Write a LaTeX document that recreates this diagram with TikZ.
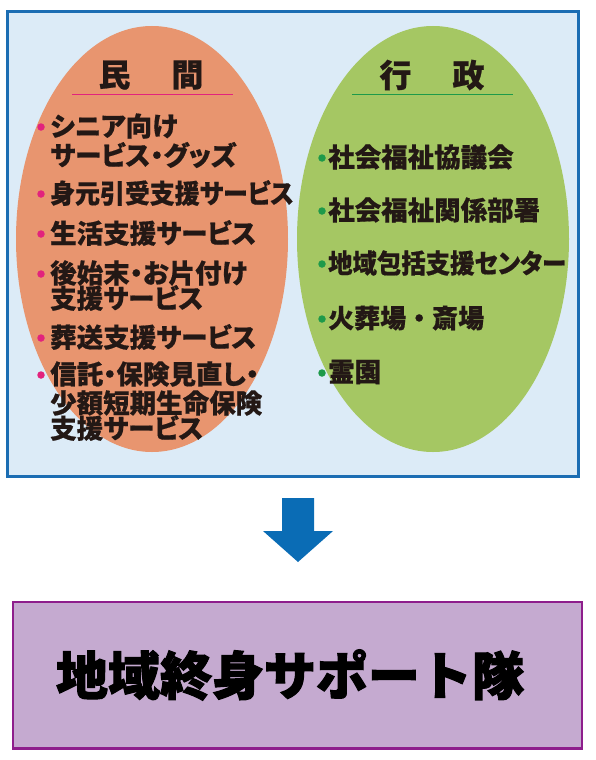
\documentclass[tikz,border=0pt]{standalone}
\usepackage{fontspec}
\usetikzlibrary{shapes.geometric}
\newfontfamily\jp{Noto Sans CJK JP}[RawFeature=+palt, BoldFeatures={FakeBold=0.6}]
\newfontfamily\jpfull{Noto Sans CJK JP}[BoldFeatures={FakeBold=0.6}]
\newfontfamily\jpheavy{Noto Sans CJK JP}[BoldFeatures={FakeBold=2}]
\definecolor{outerblue}{HTML}{1B6DB3}
\definecolor{paleblue}{HTML}{DCEBF7}
\definecolor{orangefill}{HTML}{E8956F}
\definecolor{greenfill}{HTML}{A5C763}
\definecolor{pinkmark}{HTML}{E2237D}
\definecolor{greenmark}{HTML}{1E9A4A}
\definecolor{arrowblue}{HTML}{0A6CB5}
\definecolor{purpleline}{HTML}{8E1E8C}
\definecolor{purplefill}{HTML}{C5AAD0}
\definecolor{ink}{HTML}{231815}
\tikzset{
  item/.style={anchor=west, inner sep=0pt, text=ink, font=\jp\bfseries\fontsize{26.5}{30}\selectfont},
  title/.style={inner sep=0pt, text=ink, font=\jp\bfseries\fontsize{32}{36}\selectfont},
  pinkdot/.style={circle, fill=pinkmark, inner sep=0pt, minimum size=7.5pt},
  greendot/.style={circle, fill=greenmark, inner sep=0pt, minimum size=7.5pt},
  blob/.style={ellipse, inner sep=0pt, minimum width=272pt, minimum height=426pt, draw=none}
}
\begin{document}
\begin{tikzpicture}[x=1pt,y=-1pt]
\useasboundingbox (0,0) rectangle (595,760);
% outer panel
\node[draw=outerblue, line width=3pt, fill=paleblue, minimum width=571pt, minimum height=465pt, inner sep=0pt] (panel) at (292.5,244) {};
% blobs
\node[blob, fill=orangefill] (priv) at (152,239) {};
\node[blob, fill=greenfill] (gov) at (433,239) {};
% titles
\node[title] (t1) at (151,75) {民\hspace{41pt}間};
\node[title] (t2) at (432,75) {行\hspace{41pt}政};
\draw[pinkmark, line width=1.8pt] (72,94.5) -- (233,94.5);
\draw[greenmark, line width=1.8pt] (352,94.5) -- (513,94.5);
% left items
\node[pinkdot] (b1) at (41,127) {};
\node[item] (l1a) at (50,126) {シニア向け};
\node[item] (l1b) at (50,155) {サービス・グッズ};
\node[pinkdot] (b2) at (41,194) {};
\node[item] (l2) at (50,193) {\scalebox{0.94}[1]{身元引受支援サービス}};
\node[pinkdot] (b3) at (41,234) {};
\node[item] (l3) at (50,233) {生活支援サービス};
\node[pinkdot] (b4) at (41,274) {};
\node[item] (l4a) at (50,273) {後始末・お片付け};
\node[item] (l4b) at (50,298) {支援サービス};
\node[pinkdot] (b5) at (41,338) {};
\node[item] (l5) at (50,337) {葬送支援サービス};
\node[pinkdot] (b6) at (41,375) {};
\node[item] (l6a) at (50,374) {信託・保険見直し・};
\node[item] (l6b) at (50,403) {少額短期生命保険};
\node[item] (l6c) at (50,428) {支援サービス};
% right items
\node[greendot] (g1) at (322,158) {};
\node[item] (r1) at (328,157) {社会福祉協議会};
\node[greendot] (g2) at (322,211) {};
\node[item] (r2) at (328,210) {社会福祉関係部署};
\node[greendot] (g3) at (322,264) {};
\node[item] (r3) at (328,263) {\scalebox{0.92}[1]{地域包括支援センター}};
\node[greendot] (g4) at (322,319) {};
\node[item, font=\jpfull\bfseries\fontsize{26}{30}\selectfont] (r4) at (328,318) {火葬場・斎場};
\node[greendot] (g5) at (322,373) {};
\node[item] (r5) at (328,372) {霊園};
% block arrow
\fill[arrowblue] (282,498) -- (314,498) -- (314,531) -- (333,531) -- (298,562) -- (263,531) -- (282,531) -- cycle;
% result box
\node[draw=purpleline, line width=2.5pt, fill=purplefill, minimum width=569pt, minimum height=146.5pt, inner sep=0pt] (team) at (297.5,675) {};
\node[inner sep=0pt, text=black, font=\jpheavy\bfseries\fontsize{52}{56}\selectfont] (teamlabel) at (290,675) {地域終身サポート隊};
\end{tikzpicture}
\end{document}
